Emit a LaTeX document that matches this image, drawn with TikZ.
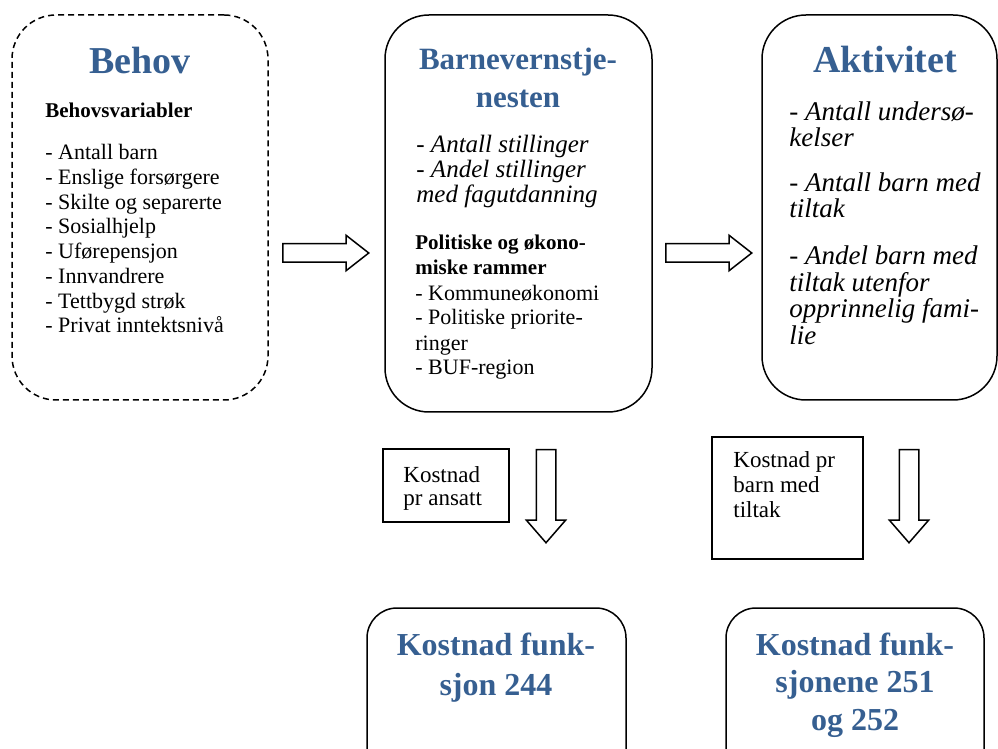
\documentclass[tikz,border=0pt]{standalone}
\usepackage{fontspec}
\setmainfont{Liberation Serif}
\usetikzlibrary{
  positioning,   % for relative placement
  shapes.arrows  % for single arrow
}
\definecolor{titleblue}{RGB}{54,95,145}
\tikzstyle{panel} = [rectangle, draw, line width=0.75pt, rounded corners=22pt, inner sep=0pt]
\tikzstyle{needpanel}=[panel,dash pattern=on 3pt off 2pt]
\tikzstyle{costpanel}=[panel,rounded corners=15pt]
\tikzstyle{ratebox}=[rectangle, draw, line width=0.75pt, inner sep=0pt]
\tikzstyle{heading}=[text=titleblue, font=\bfseries\fontsize{19}{19}\selectfont, align=center, inner sep=0pt, anchor=base]
\tikzstyle{subheading}=[heading, font=\bfseries\fontsize{15.5}{19}\selectfont]
\tikzstyle{plaintext}=[align=left, inner sep=0pt, anchor=base west, font=\fontsize{11}{12.4}\selectfont]
\tikzstyle{bolditem}=[plaintext, font=\bfseries\fontsize{10.5}{12.5}\selectfont]
\tikzstyle{slanted}=[plaintext, font=\itshape\fontsize{12.5}{12.5}\selectfont]
\tikzstyle{bigslanted}=[plaintext, font=\itshape\fontsize{13.5}{13.2}\selectfont]
\tikzset{
  % length, half shaft, head extend
  blockarrow/.style n args={3}{single arrow, draw, line width=0.75pt, anchor=tail,
    inner xsep=0pt, inner ysep=#2, minimum height=#1, single arrow head extend=#3},
}

\begin{document}
\begin{tikzpicture}[x=0.5pt,y=-0.5pt]
\useasboundingbox (0,0) rectangle (998,749);
  % three main panels
\node[needpanel,minimum width=128pt,minimum height=192.5pt](behov) at (140,207.5) {};
\node[panel,minimum width=133.5pt,minimum height=198.5pt](tjeneste) at (518.5,213.5) {};
\node[panel,minimum width=117.5pt,minimum height=192.5pt](aktivitet) at (879.5,207.5) {};

  % texts sit on the baseline of their last line
\node[heading](behovtitle) at (140,74) {Behov};
\node[bolditem](behovvar) at (45,118) {Behovsvariabler};
\node[plaintext](behovlist) at (45,333) {- Antall barn\\- Enslige forsørgere\\- Skilte og separerte\\- Sosialhjelp\\- Uførepensjon\\- Innvandrere\\- Tettbygd strøk\\- Privat inntektsnivå};

\node[subheading](tjenestetitle) at (518,108) {Barnevernstje-\\nesten};
\node[slanted](stillinger) at (416,203) {- Antall stillinger\\- Andel stillinger\\med fagutdanning};
\node[bolditem](rammer) at (415,275) {Politiske og økono-\\miske rammer};
\node[plaintext,font=\fontsize{11}{12.5}\selectfont](rammelist) at (415,375) {- Kommuneøkonomi\\- Politiske priorite-\\ringer\\- BUF-region};

\node[heading](aktivitettitle) at (885,73) {Aktivitet};
\node[bigslanted](undersok) at (789,147) {- Antall undersø-\\kelser};
\node[bigslanted](tiltak) at (789,218) {- Antall barn med\\tiltak};
\node[bigslanted](utenfor) at (789,344) {- Andel barn med\\tiltak utenfor\\opprinnelig fami-\\lie};

  % block arrows between panels
\node[blockarrow={43pt}{4.25pt}{4.25pt},single arrow tip angle=76](pil1) at (282,253) {};
\node[blockarrow={43pt}{4.25pt}{4.25pt},single arrow tip angle=76](pil2) at (665,253) {};
\node[blockarrow={46.5pt}{4.5pt}{5pt},single arrow tip angle=82,rotate=-90](pil3) at (546,449) {};
\node[blockarrow={46.5pt}{4.5pt}{5pt},single arrow tip angle=82,rotate=-90](pil4) at (909,449) {};

  % unit costs
\node[ratebox,minimum width=63pt,minimum height=36.5pt](ansatt) at (446,485.5) {};
\node[plaintext,font=\fontsize{11.5}{11.5}\selectfont](ansatttext) at (403,505) {Kostnad\\pr ansatt};
\node[ratebox,minimum width=75.5pt,minimum height=61pt](barn) at (787.5,498) {};
\node[plaintext,font=\fontsize{11.5}{12.5}\selectfont](barntext) at (733,517) {Kostnad pr\\barn med\\tiltak};

  % resulting cost functions
\node[costpanel,minimum width=129.5pt,minimum height=86pt](f244) at (496.5,694) {};
\node[subheading,font=\bfseries\fontsize{16}{20}\selectfont](f244text) at (496,695) {Kostnad funk-\\sjon 244};
\node[costpanel,minimum width=129pt,minimum height=86pt](f251) at (855,694) {};
\node[subheading,font=\bfseries\fontsize{16}{18.75}\selectfont](f251text) at (855,730) {Kostnad funk-\\sjonene 251\\og 252};
\end{tikzpicture}
\end{document}
